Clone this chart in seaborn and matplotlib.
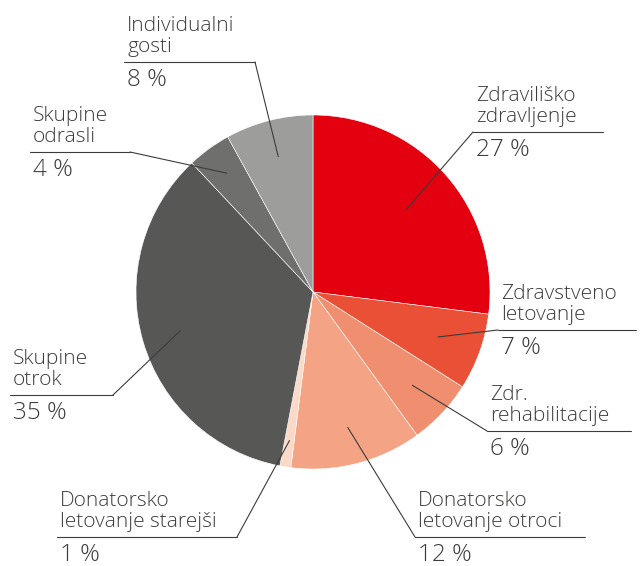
import numpy as np
import seaborn as sns
import matplotlib.pyplot as plt

sns.set_theme(style="white")
plt.rcParams['font.family'] = ['Open Sans', 'DejaVu Sans']

# data
names = ["Zdraviliško\nzdravljenje", "Zdravstveno\nletovanje", "Zdr.\nrehabilitacije",
         "Donatorsko\nletovanje otroci", "Donatorsko\nletovanje starejši",
         "Skupine\notrok", "Skupine\nodrasli", "Individualni\ngosti"]
shares = [27, 7, 6, 12, 1, 35, 4, 8]
colors = ["#e3000f", "#e95035", "#f08e70", "#f4a384", "#fbd9c8",
          "#575756", "#6f6f6e", "#9d9d9c"]

# label layout in pixels (x_left, x_right, y of underline), elbow side, radius frac
layout = [
    (473, 603, 132, "left", 0.70),
    (498, 636, 330, "left", 0.75),
    (487, 631, 431, "left", 0.77),
    (415, 585, 537, "left", 0.79),
    (57, 237, 537, "right", 0.85),
    (10, 113, 395, "right", 0.78),
    (30, 130, 152, "right", 0.83),
    (124, 255, 62, "right", 0.79),
]

W, H = 640, 566
cx, cy, R = 313, 292, 177
ink = "#3c3c3b"

fig = plt.figure(figsize=(6.4, 5.66), dpi=100)
ax = fig.add_axes([0, 0, 1, 1])

wedges, _ = ax.pie(shares, colors=colors, startangle=90, counterclock=False,
                   center=(cx, H - cy), radius=R,
                   wedgeprops=dict(edgecolor="white", linewidth=0.4))
ax.set_xlim(0, W)
ax.set_ylim(0, H)
ax.axis("off")
ax.set_aspect("equal")

for w, name, val, (xl, xr, yu, side, rf) in zip(wedges, names, shares, layout):
    mid = np.deg2rad((w.theta1 + w.theta2) / 2)
    px = cx + rf * R * np.cos(mid)
    py = (H - cy) + rf * R * np.sin(mid)
    yd = H - yu
    ex = xl if side == "left" else xr
    ax.plot([px, ex], [py, yd], color=ink, lw=0.8)
    ax.plot([xl, xr], [yd, yd], color=ink, lw=0.8)
    tx = xl + 3
    ax.text(tx, yd + 10, name, ha="left", va="baseline", fontsize=15,
            color=ink, linespacing=1.05, fontweight="light")
    ax.text(tx, yd - 24, f"{val} %", ha="left", va="baseline", fontsize=17.5,
            color=ink, fontweight="light")

fig.savefig("out.png", dpi=100)
